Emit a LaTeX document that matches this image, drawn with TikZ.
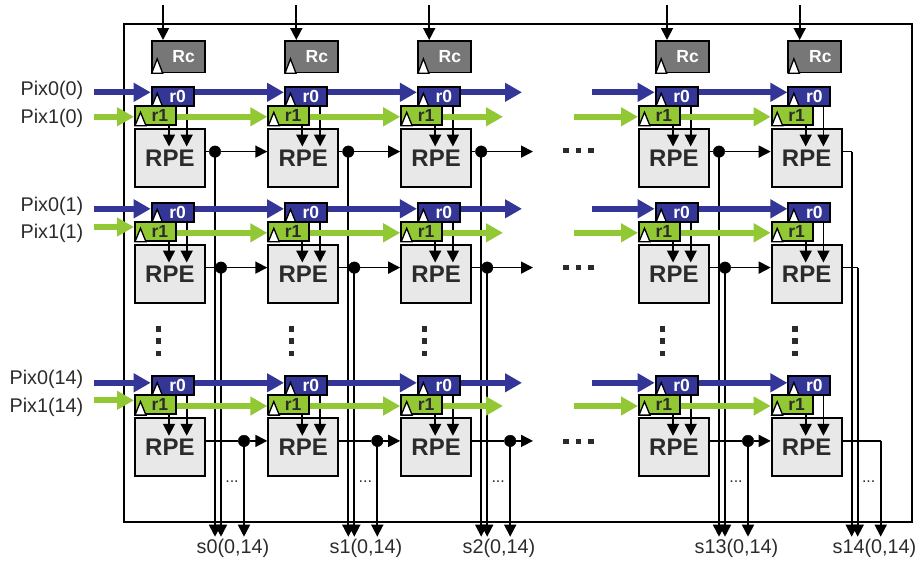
\documentclass[tikz,border=0pt]{standalone}
\usepackage{fontspec}
\setmainfont{Liberation Sans}
\usetikzlibrary{arrows.meta}

\definecolor{regblue}{RGB}{51,54,150}
\definecolor{reggreen}{RGB}{145,200,52}
\definecolor{rcgray}{RGB}{119,119,119}
\definecolor{rpegray}{RGB}{232,232,232}
\definecolor{inktext}{RGB}{45,42,42}

\begin{document}
\begin{tikzpicture}[x=1pt,y=-1pt,
box/.style={draw=black,line width=1.8pt,inner sep=0pt,anchor=north west},
rpe/.style={box,fill=rpegray,text=inktext,minimum width=70pt,minimum height=58pt,font=\fontsize{24}{24}\selectfont\bfseries},
rc/.style={box,fill=rcgray,text=white,minimum width=53pt,minimum height=31.5pt,font=\fontsize{17.5}{18}\selectfont\bfseries},
rzero/.style={box,fill=regblue,text=white,minimum width=42pt,minimum height=19pt,font=\fontsize{17.5}{18}\selectfont\bfseries},
rone/.style={box,fill=reggreen,text=inktext,minimum width=41pt,minimum height=19pt,font=\fontsize{17.5}{18}\selectfont\bfseries},
clock/.style={draw=black,fill=white,line width=1.3pt,line join=miter},
sig/.style={-{Triangle[length=12pt,width=12pt]},line width=1.7pt},
wire/.style={line width=1.7pt},
blueflow/.style={-{Triangle[length=17pt,width=18pt]},draw=regblue,line width=6pt},
greenflow/.style={-{Triangle[length=17pt,width=18pt]},draw=reggreen,line width=6pt},
junction/.style={draw=black,fill=black,circle,inner sep=0pt,minimum size=11.5pt},
dotsq/.style={fill=inktext,inner sep=0pt,minimum size=5.3pt},
smalldots/.style={text=inktext,inner sep=0pt,font=\fontsize{16}{16}\selectfont},
pixlabel/.style={text=inktext,inner sep=0pt,anchor=east,font=\fontsize{19.8}{20}\selectfont},
outlabel/.style={text=inktext,inner sep=0pt,font=\fontsize{19.8}{20}\selectfont}]
\useasboundingbox (0,0) rectangle (920,563);

\node[box,minimum width=788pt,minimum height=498pt] (chip) at (122.7,22.7) {};

\coordinate (e) at (0,536.7);
\coordinate (bluegap) at (522,0);
\coordinate (bluestart) at (592,0);
\coordinate (greengap) at (503,0);
\coordinate (greenstart) at (574,0);
\coordinate (pixstart) at (94,0);
\coordinate (sigend) at (533,0);

\node[pixlabel] (pix00) at (83.5,90) {Pix0(0)};
\node[pixlabel] (pix10) at (83.5,118) {Pix1(0)};
\node[pixlabel] (pix01) at (83.5,206) {Pix0(1)};
\node[pixlabel] (pix11) at (83.5,233) {Pix1(1)};
\node[pixlabel] (pix02) at (83.5,379.3) {Pix0(14)};
\node[pixlabel] (pix12) at (83.5,407.7) {Pix1(14)};

\node[outlabel] (s0) at (233,548) {s0(0,14)};
\node[outlabel] (s1) at (366,548) {s1(0,14)};
\node[outlabel] (s2) at (499,548) {s2(0,14)};
\node[outlabel] (s3) at (736.5,548) {s13(0,14)};
\node[outlabel] (s4) at (874.5,548) {s14(0,14)};

\foreach \c/\x in {0/134,1/267.3,2/400.2,3/638,4/770.7}{
  \node[rc] (c\c) at (\x+16.7,40) {\hspace*{11pt}Rc};
  \draw[clock] (c\c.south west) ++(1,0) -- ++(5.5,-14.5) -- ++(5.5,14.5) -- cycle;
  \coordinate (top\c) at (\x+29,5);
  \draw[sig] (top\c) -- (top\c |- c\c.north);
  \foreach \d in {329,341,353.3}
    \node[dotsq] (v\c\d) at (\x+24.4,\d) {};
  \foreach \r/\y/\o in {0/128/81,1/244/87,2/417.3/110}{
    \node[rpe] (p\c\r) at (\x,\y) {\raisebox{-1.2pt}{RPE}};
    \coordinate (d\c\r) at (\x+\o,\y+23.6);
  }
  \node[smalldots] (m\c) at (\x+98,482) {...};
}

% vertical outputs sit below the coloured buses
\foreach \c in {0,1,2,3,4}
  \foreach \r in {0,1,2}
    \draw[sig] (d\c\r) -- (d\c\r |- e);

\foreach \c/\x in {0/134,1/267.3,2/400.2,3/638,4/770.7}
  \foreach \r/\y in {0/128,1/244,2/417.3}{
    \node[rzero] (a\c\r) at (\x+16.7,\y-42) {\hspace*{10pt}\raisebox{-1.2pt}{r0}};
    \draw[clock] (a\c\r.south west) ++(1,0) -- ++(5.5,-13.5) -- ++(5.5,13.5) -- cycle;
    \node[rone] (b\c\r) at (\x,\y-23) {\hspace*{9pt}r1};
    \draw[clock] (b\c\r.south west) ++(1,0) -- ++(5.5,-13.5) -- ++(5.5,13.5) -- cycle;
    \draw[sig] (b\c\r.south west) ++(35,0) -- ++(0,20.7);
    \draw[sig] (a\c\r.south west) ++(36,0) -- ++(0,39.7);
  }

\foreach \r/\b/\g/\i in {0/92.3/116.8/116.8,1/208.8/232.8/227,2/382.8/406/400.3}{
  \coordinate (u\r) at (0,\b);
  \coordinate (w\r) at (0,\g);
  \coordinate (i\r) at (0,\i);
  \draw[blueflow] (pixstart |- u\r) -- (a0\r.west |- u\r);
  \draw[greenflow] (pixstart |- i\r) -- (b0\r.west |- i\r);
  \draw[blueflow] (a2\r.east |- u\r) -- (bluegap |- u\r);
  \draw[greenflow] (b2\r.east |- w\r) -- (greengap |- w\r);
  \draw[blueflow] (bluestart |- u\r) -- (a3\r.west |- u\r);
  \draw[greenflow] (greenstart |- w\r) -- (b3\r.west |- w\r);
  \foreach \c/\n in {0/1,1/2,3/4}{
    \draw[blueflow] (a\c\r.east |- u\r) -- (a\n\r.west |- u\r);
    \draw[greenflow] (b\c\r.east |- w\r) -- (b\n\r.west |- w\r);
    \node[junction] (j\c\r) at (d\c\r) {};
    \draw[wire] (p\c\r.east |- d\c\r) -- (j\c\r);
    \draw[sig] (j\c\r) -- (p\n\r.west |- d\c\r);
  }
  \node[junction] (j2\r) at (d2\r) {};
  \draw[wire] (p2\r.east |- d2\r) -- (j2\r);
  \draw[sig] (j2\r) -- (sigend |- d2\r);
  \draw[wire] (p4\r.east |- d4\r) -- (d4\r);
  \node[dotsq] (q0\r) at (566,\b+58.5) {};
  \node[dotsq] (q1\r) at (578.7,\b+58.5) {};
  \node[dotsq] (q2\r) at (591,\b+58.5) {};
}
\end{tikzpicture}
\end{document}
